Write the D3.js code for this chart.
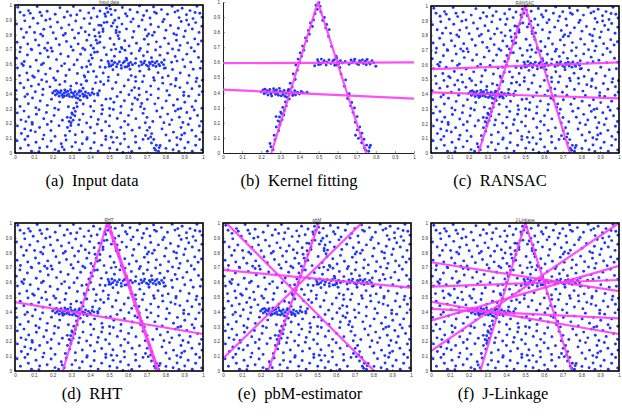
<!DOCTYPE html>
<html><head><meta charset="utf-8">
<script src="https://cdn.jsdelivr.net/npm/d3@7"></script>
<style>body{margin:0;background:#fff}svg{display:block}</style>
</head><body><svg id="c" width="622" height="419"></svg>
<script>
// ---------- data ----------
const tickValues = [0,0.1,0.2,0.3,0.4,0.5,0.6,0.7,0.8,0.9,1];
const tickLabels = ["0","0.1","0.2","0.3","0.4","0.5","0.6","0.7","0.8","0.9","1"];

// outlier (noise) points, [x, y]
const noisePoints = [
[.015,.985],[.048,.93],[.072,.962],[.081,.944],[.097,.91],[.118,.99],[.142,.928],[.171,.958],[.186,.905],[.214,.938],[.239,.982],[.262,.917],[.278,.955],[.311,.99],[.329,.934],[.347,.962],[.368,.908],[.392,.947],[.418,.978],[.437,.921],[.452,.959],[.478,.939],[.533,.964],[.552,.912],[.571,.983],[.588,.941],[.612,.968],[.628,.906],[.651,.951],[.663,.994],[.684,.929],[.701,.961],[.718,.912],[.737,.987],[.752,.944],[.779,.969],[.793,.903],[.811,.938],[.836,.992],[.851,.952],[.873,.915],[.889,.978],[.912,.934],[.931,.962],[.947,.908],[.968,.991],[.983,.944],[.995,.918],[.027,.951],[.133,.951],[.296,.929],[.405,.912],[.596,.925],[.742,.952],[.866,.962],[.958,.949],
[.008,.872],[.033,.838],[.052,.893],[.079,.851],[.104,.814],[.121,.876],[.153,.836],[.164,.897],[.189,.852],[.203,.812],[.226,.884],[.247,.845],[.268,.807],[.287,.866],[.305,.832],[.323,.892],[.352,.846],[.374,.819],[.397,.874],[.421,.833],[.446,.864],[.468,.821],[.513,.857],[.538,.812],[.569,.871],[.593,.838],[.617,.886],[.632,.821],[.658,.856],[.676,.899],[.693,.833],[.722,.868],[.741,.816],[.763,.852],[.786,.887],[.803,.829],[.827,.861],[.845,.806],[.869,.843],[.884,.889],[.906,.824],[.924,.867],[.943,.838],[.961,.881],[.979,.815],[.994,.856],[.061,.815],[.137,.803],[.338,.809],[.489,.884],[.711,.805],[.913,.898],
[.011,.748],[.029,.713],[.046,.781],[.068,.736],[.086,.702],[.109,.764],[.127,.728],[.148,.791],[.174,.744],[.192,.709],[.218,.772],[.236,.731],[.257,.796],[.274,.753],[.298,.718],[.317,.777],[.336,.737],[.361,.708],[.382,.762],[.404,.726],[.426,.789],[.451,.748],[.474,.712],[.506,.774],[.527,.733],[.548,.792],[.566,.714],[.584,.758],[.607,.723],[.625,.781],[.646,.742],[.667,.706],[.688,.769],[.709,.734],[.731,.795],[.752,.751],[.773,.717],[.796,.776],[.817,.739],[.838,.703],[.859,.762],[.878,.727],[.898,.786],[.918,.744],[.937,.711],[.956,.771],[.974,.735],[.992,.757],[.158,.708],[.394,.797],[.536,.702],[.703,.791],[.859,.798],
[.007,.641],[.026,.683],[.049,.618],[.066,.662],[.089,.697],[.113,.627],[.134,.673],[.151,.606],[.177,.649],[.198,.688],[.221,.631],[.243,.669],[.264,.604],[.283,.652],[.309,.694],[.331,.628],[.349,.667],[.438,.682],[.459,.626],[.486,.664],[.512,.697],[.529,.654],[.558,.683],[.619,.672],[.643,.638],[.661,.691],[.683,.657],[.704,.683],[.726,.644],[.748,.696],[.771,.661],[.794,.628],[.812,.674],[.833,.613],[.852,.652],[.871,.695],[.893,.631],[.914,.668],[.935,.614],[.954,.687],[.976,.645],[.993,.618],[.036,.603],[.171,.693],[.372,.698],[.585,.694],[.862,.621],
[.013,.574],[.024,.523],[.044,.591],[.063,.541],[.081,.583],[.102,.512],[.124,.554],[.141,.596],[.163,.533],[.187,.571],[.206,.507],[.227,.552],[.248,.589],[.271,.524],[.289,.563],[.314,.596],[.332,.537],[.356,.578],[.418,.552],[.433,.516],[.452,.581],[.469,.541],[.497,.513],[.521,.562],[.548,.529],[.566,.572],[.641,.514],[.664,.553],[.686,.521],[.713,.566],[.737,.508],[.761,.543],[.794,.572],[.815,.521],[.838,.564],[.857,.503],[.879,.541],[.903,.583],[.926,.524],[.948,.566],[.967,.505],[.986,.573],[.997,.492],[.094,.521],[.371,.513],[.784,.509],
[.006,.423],[.028,.472],[.047,.441],[.069,.494],[.087,.452],[.108,.414],[.126,.463],[.149,.431],[.168,.482],[.186,.447],[.216,.492],[.238,.462],[.266,.483],[.297,.452],[.327,.471],[.382,.486],[.413,.432],[.428,.474],[.449,.421],[.472,.463],[.496,.488],[.518,.434],[.537,.476],[.562,.411],[.581,.453],[.603,.494],[.621,.423],[.659,.436],[.678,.481],[.699,.413],[.722,.452],[.741,.491],[.763,.432],[.786,.472],[.808,.421],[.829,.464],[.856,.493],[.877,.442],[.898,.411],[.917,.473],[.941,.434],[.963,.482],[.981,.451],[.996,.414],[.142,.494],[.455,.481],[.852,.452],
[.009,.362],[.027,.314],[.053,.381],[.071,.333],[.093,.372],[.111,.306],[.134,.351],[.147,.393],[.172,.322],[.194,.363],[.212,.303],[.238,.344],[.261,.384],[.284,.312],[.363,.331],[.384,.373],[.402,.314],[.423,.352],[.441,.391],[.462,.322],[.484,.364],[.503,.301],[.526,.343],[.543,.382],[.564,.314],[.582,.353],[.606,.394],[.624,.331],[.638,.372],[.704,.362],[.723,.393],[.744,.332],[.762,.371],[.783,.304],[.804,.352],[.821,.391],[.843,.323],[.864,.362],[.882,.301],[.903,.343],[.924,.384],[.942,.313],[.961,.352],[.979,.393],[.994,.302],[.066,.397],[.508,.367],[.897,.389],
[.012,.271],[.032,.224],[.048,.283],[.073,.243],[.091,.207],[.114,.262],[.128,.292],[.153,.231],[.167,.274],[.193,.213],[.208,.254],[.231,.293],[.252,.221],[.343,.224],[.362,.263],[.381,.203],[.404,.244],[.419,.283],[.443,.226],[.461,.264],[.482,.211],[.504,.252],[.523,.294],[.544,.233],[.562,.271],[.583,.214],[.604,.254],[.621,.293],[.643,.232],[.733,.213],[.754,.284],[.773,.243],[.792,.204],[.812,.263],[.834,.224],[.853,.283],[.874,.242],[.893,.206],[.914,.274],[.932,.233],[.953,.291],[.971,.253],[.992,.214],[.058,.212],[.466,.294],[.867,.296],
[.013,.183],[.034,.132],[.052,.163],[.068,.113],[.092,.194],[.108,.143],[.131,.172],[.154,.121],[.172,.193],[.191,.152],[.213,.112],[.234,.184],[.321,.123],[.338,.191],[.358,.142],[.384,.103],[.401,.172],[.423,.134],[.438,.194],[.461,.152],[.483,.113],[.502,.183],[.521,.144],[.542,.104],[.563,.173],[.581,.132],[.602,.191],[.623,.154],[.641,.112],[.662,.171],[.782,.163],[.803,.122],[.822,.192],[.843,.141],[.861,.104],[.883,.172],[.902,.133],[.922,.193],[.941,.154],[.962,.113],[.981,.182],[.995,.141],[.084,.152],[.512,.106],[.887,.122],
[.011,.083],[.029,.032],[.053,.091],[.071,.052],[.088,.012],[.112,.073],[.131,.034],[.148,.094],[.171,.042],[.192,.081],[.213,.023],[.303,.043],[.322,.072],[.343,.021],[.358,.062],[.382,.093],[.403,.032],[.421,.071],[.442,.013],[.461,.053],[.483,.091],[.504,.032],[.522,.072],[.543,.022],[.561,.063],[.583,.094],[.604,.041],[.621,.011],[.642,.073],[.662,.032],[.681,.092],[.803,.031],[.822,.083],[.841,.022],[.862,.054],[.881,.093],[.903,.034],[.921,.073],[.943,.012],[.961,.052],[.982,.091],[.993,.021],[.127,.008],[.574,.004],[.872,.011]
];

// inlier points on the four structures
const leftLegPoints = [[.232,.012],[.251,.041],[.246,.063],[.272,.088],[.262,.022],[.268,.118],[.291,.148],[.279,.172],[.297,.186],[.288,.213],[.309,.221],[.296,.238],[.318,.252],[.302,.271],[.321,.281],[.313,.302],[.331,.312],[.327,.338],[.347,.357],[.343,.421],[.362,.437],[.352,.462],[.378,.487],[.368,.523],[.389,.548],[.381,.583],[.402,.598],[.393,.622],[.411,.641],[.404,.663],[.423,.681],[.417,.708],[.438,.741],[.432,.762],[.452,.787],[.447,.812],[.468,.838],[.458,.861],[.474,.881],[.482,.923],[.494,.951],[.487,.978],[.502,.995],[.278,.241],[.306,.262],[.298,.205]];
const rightLegPoints = [[.508,.972],[.512,.934],[.531,.897],[.522,.878],[.543,.851],[.538,.828],[.556,.817],[.553,.772],[.569,.706],[.592,.641],[.583,.618],[.604,.603],[.596,.583],[.612,.566],[.618,.523],[.642,.484],[.636,.442],[.661,.392],[.652,.361],[.674,.334],[.668,.312],[.688,.298],[.681,.268],[.702,.241],[.693,.204],[.716,.172],[.703,.153],[.727,.131],[.694,.118],[.709,.097],[.738,.091],[.726,.068],[.752,.052],[.741,.032],[.763,.012],[.772,.051],[.767,.036],[.722,.108],[.748,.019]];
const upperBarPoints = [[.48,.578],[.495,.618],[.50,.603],[.51,.588],[.515,.622],[.52,.597],[.53,.611],[.54,.583],[.545,.602],[.555,.617],[.565,.592],[.575,.609],[.585,.581],[.595,.628],[.605,.59],[.615,.612],[.625,.596],[.66,.588],[.67,.616],[.675,.597],[.685,.607],[.69,.621],[.70,.593],[.71,.585],[.715,.611],[.72,.602],[.73,.617],[.735,.592],[.745,.608],[.75,.584],[.755,.619],[.765,.598],[.77,.589],[.78,.611],[.79,.597],[.80,.575],[.50,.585],[.64,.606]];
const lowerBarPoints = [[.20,.405],[.21,.418],[.215,.392],[.22,.423],[.225,.401],[.23,.413],[.235,.384],[.24,.407],[.245,.421],[.25,.392],[.255,.377],[.26,.404],[.265,.426],[.27,.411],[.275,.389],[.28,.417],[.285,.398],[.29,.382],[.30,.409],[.305,.378],[.31,.402],[.315,.387],[.32,.414],[.325,.374],[.33,.396],[.34,.411],[.345,.386],[.35,.418],[.36,.399],[.365,.381],[.37,.392],[.375,.412],[.38,.384],[.39,.403],[.40,.391],[.41,.407],[.295,.428],[.335,.369],[.42,.398],[.44,.402]];

// fitted lines per method: [x1, y1, x2, y2]
const linesKernel = [[.253,0,.497,1],[.497,1,.75,0],[0,.595,1,.60],[0,.42,1,.36]];
const linesRansac = [[.252,0,.50,1],[.50,1,.739,0],[0,.571,1,.616],[0,.413,1,.372]];
const linesRHT    = [[.254,0,.49,1],[.49,1,.758,0],[.497,1,.765,0],[0,.465,1,.25]];
const linesPbM    = [[0,.683,1,.563],[.018,1,.804,0],[0,.085,.738,1],[.24,0,.51,1]];
const linesJLink  = [[.262,0,.502,1],[.502,1,.751,0],[0,.735,1,.54],[0,.57,1,.615],[0,.468,1,.25],[0,.42,1,.355],[0,.34,1,.71],[0,.135,1,1]];

const panelTitles = ["Input data","","RANSAC","RHT","pbM","J-Linkage"];
const captions = ["(a)  Input data","(b)  Kernel fitting","(c)  RANSAC","(d)  RHT","(e)  pbM-estimator","(f)  J-Linkage"];

// ---------- layout ----------
const inliers = [].concat(leftLegPoints, rightLegPoints, upperBarPoints, lowerBarPoints);
const allPoints = noisePoints.concat(inliers);
const panels = [
 {x0:15, x1:203, y0:5,   y1:153, pts:allPoints, lines:[],          frame:true,  cap:92},
 {x0:223,x1:414, y0:2,   y1:153, pts:inliers,   lines:linesKernel, frame:false, cap:299},
 {x0:431,x1:619, y0:6,   y1:153, pts:allPoints, lines:linesRansac, frame:true,  cap:500},
 {x0:15, x1:203, y0:223, y1:371, pts:allPoints, lines:linesRHT,    frame:true,  cap:92},
 {x0:223,x1:411, y0:223, y1:371, pts:allPoints, lines:linesPbM,    frame:true,  cap:300},
 {x0:431,x1:619, y0:223, y1:371, pts:allPoints, lines:linesJLink,  frame:true,  cap:503}
];
const capY = [186,186,186,399,399,399];

const svg = d3.select("#c");
panels.forEach((p,i)=>{
  const x = d3.scaleLinear().domain([0,1]).range([p.x0,p.x1]);
  const y = d3.scaleLinear().domain([0,1]).range([p.y1,p.y0]);
  const g = svg.append("g");
  const cid = "clip"+i;
  g.append("clipPath").attr("id",cid).append("rect")
    .attr("x",p.x0-1).attr("y",p.y0-1).attr("width",p.x1-p.x0+2).attr("height",p.y1-p.y0+2);

  const ax = g.append("g").attr("transform",`translate(0,${p.y1})`)
    .call(d3.axisBottom(x).tickValues(tickValues).tickFormat((d,k)=>tickLabels[k]).tickSizeInner(-2).tickSizeOuter(0).tickPadding(3));
  const ay = g.append("g").attr("transform",`translate(${p.x0},0)`)
    .call(d3.axisLeft(y).tickValues(tickValues).tickFormat((d,k)=>tickLabels[k]).tickSizeInner(-2).tickSizeOuter(0).tickPadding(3));
  [ax,ay].forEach(a=>{
    a.selectAll("text").attr("font-size","4.5px").attr("font-family","Liberation Sans, sans-serif").attr("fill","#333");
    a.selectAll("line").attr("stroke","#333").attr("stroke-width",0.5);
    a.select(".domain").attr("stroke", p.frame ? "none" : "#222").attr("stroke-width",1);
  });

  g.append("g").attr("clip-path",`url(#${cid})`).selectAll("circle").data(p.pts).join("circle")
    .attr("cx",d=>x(d[0])).attr("cy",d=>y(d[1])).attr("r",1.45).attr("fill","#1f36ff");

  g.append("g").attr("clip-path",`url(#${cid})`).selectAll("line").data(p.lines).join("line")
    .attr("x1",d=>x(d[0])).attr("y1",d=>y(d[1])).attr("x2",d=>x(d[2])).attr("y2",d=>y(d[3]))
    .attr("stroke","#ff3cf5").attr("stroke-width",2.2).attr("stroke-opacity",0.9);

  if (p.frame) {
    g.append("rect").attr("x",p.x0).attr("y",p.y0).attr("width",p.x1-p.x0).attr("height",p.y1-p.y0)
      .attr("fill","none").attr("stroke","#000").attr("stroke-width",1.6);
  }
  if (panelTitles[i]) {
    g.append("text").attr("x",(p.x0+p.x1)/2).attr("y",p.y0-1.2).attr("text-anchor","middle")
      .attr("font-size","4.5px").attr("font-family","Liberation Sans, sans-serif").attr("fill","#444").text(panelTitles[i]);
  }
  svg.append("text").attr("x",p.cap).attr("y",capY[i]).attr("text-anchor","middle")
    .attr("font-size","16.5px").attr("font-family","Liberation Serif, serif").attr("fill","#000")
    .style("white-space","pre").text(captions[i]);
});
</script></body></html>
